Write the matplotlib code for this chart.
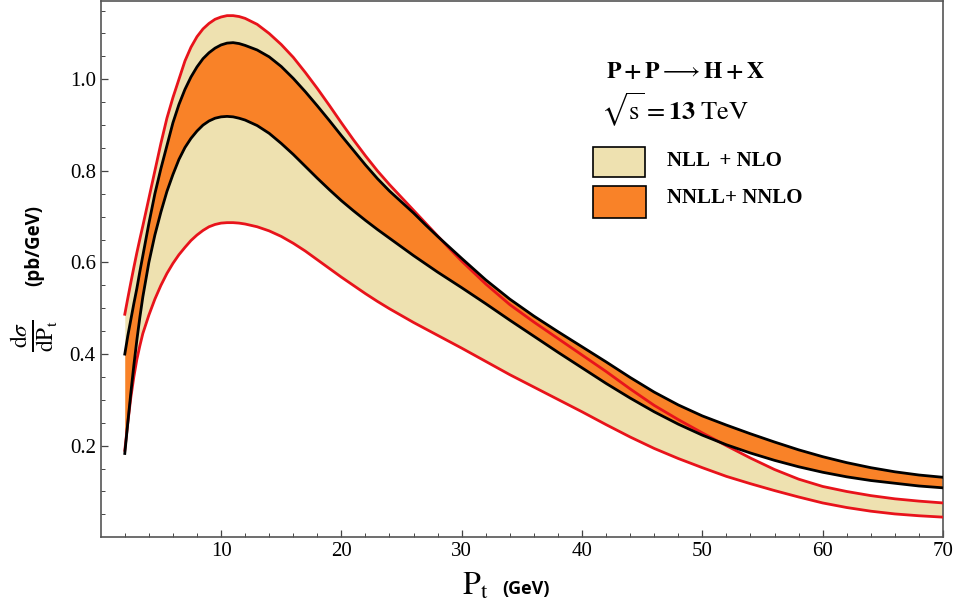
import numpy as np
import matplotlib
matplotlib.use("Agg")
import matplotlib.pyplot as plt
from matplotlib.patches import Rectangle

plt.rcParams['font.family'] = ['Liberation Serif', 'DejaVu Serif']
plt.rcParams['mathtext.fontset'] = 'stix'

# transverse momentum grid (GeV)
pt = [2, 2.25, 2.5, 2.75, 3, 3.25, 3.5,
      4, 4.5, 5, 5.5, 6, 6.5, 7, 7.5, 8, 8.5, 9, 9.5, 10, 10.5, 11, 11.5, 12,
      13, 14, 15, 16, 17, 18, 19, 20, 21, 22, 23, 24, 25, 26, 27, 28, 29, 30,
      32, 34, 36, 38, 40, 42, 44, 46, 48, 50, 52, 54, 56, 58, 60, 62, 64, 66, 68, 70]

# NLL + NLO band (red edges)
nlo_hi = [0.487, 0.522, 0.556, 0.589, 0.621, 0.651, 0.68,
          0.74, 0.80, 0.86, 0.915, 0.96, 1.0, 1.04, 1.07, 1.093, 1.11, 1.122, 1.131,
          1.136, 1.139, 1.139, 1.137, 1.133,
          1.12, 1.1, 1.076, 1.048, 1.015, 0.98, 0.943, 0.905, 0.868, 0.833, 0.8,
          0.77, 0.742, 0.714, 0.686, 0.658, 0.63, 0.603,
          0.553, 0.508, 0.47, 0.434, 0.398, 0.362, 0.324, 0.288, 0.257, 0.228, 0.2,
          0.173, 0.148, 0.127, 0.111, 0.1, 0.091, 0.084, 0.079, 0.075]
nlo_lo = [0.19, 0.25, 0.305, 0.35, 0.388, 0.418, 0.445,
          0.485, 0.52, 0.55, 0.576, 0.598, 0.617, 0.633, 0.648, 0.66, 0.67, 0.678, 0.683,
          0.686, 0.687, 0.687, 0.686, 0.684,
          0.678, 0.669, 0.657, 0.642, 0.625, 0.606, 0.587, 0.568, 0.55, 0.532, 0.515,
          0.499, 0.484, 0.469, 0.455, 0.441, 0.427, 0.413,
          0.384, 0.355, 0.328, 0.301, 0.274, 0.246, 0.219, 0.194, 0.172, 0.152, 0.133,
          0.117, 0.102, 0.088, 0.075, 0.065, 0.057, 0.051, 0.047, 0.044]

# NNLL + NNLO band (black edges)
nnlo_hi = [0.40, 0.44, 0.475, 0.51, 0.543, 0.58, 0.615,
           0.685, 0.75, 0.805, 0.855, 0.905, 0.945, 0.978, 1.005, 1.027, 1.045, 1.058, 1.068,
           1.075, 1.079, 1.08, 1.078, 1.074,
           1.064, 1.049, 1.028, 1.002, 0.973, 0.942, 0.91, 0.877, 0.845, 0.813, 0.783,
           0.756, 0.732, 0.708, 0.682, 0.657, 0.633, 0.609,
           0.562, 0.52, 0.483, 0.449, 0.416, 0.383, 0.349, 0.317, 0.289, 0.265, 0.245,
           0.226, 0.208, 0.191, 0.176, 0.163, 0.152, 0.143, 0.136, 0.131]
nnlo_lo = [0.183, 0.25, 0.315, 0.375, 0.43, 0.48, 0.525,
           0.60, 0.66, 0.71, 0.755, 0.792, 0.825, 0.851, 0.871, 0.887, 0.90, 0.909, 0.915,
           0.918, 0.919, 0.918, 0.915, 0.911,
           0.899, 0.882, 0.86, 0.836, 0.81, 0.784, 0.759, 0.735, 0.713, 0.692, 0.672,
           0.653, 0.634, 0.615, 0.597, 0.579, 0.562, 0.545,
           0.51, 0.474, 0.439, 0.404, 0.37, 0.336, 0.304, 0.274, 0.247, 0.223, 0.202,
           0.184, 0.168, 0.154, 0.142, 0.132, 0.124, 0.118, 0.112, 0.108]

beige = '#eee1b0'
orange = '#f98228'
red = '#e8131b'

fig = plt.figure(figsize=(9.63, 6.08), dpi=100)
ax = fig.add_axes([0.1046, 0.1163, 0.8746, 0.8821])

ax.fill_between(pt, nlo_lo, nlo_hi, color=beige, lw=0, zorder=1)
ax.fill_between(pt, nnlo_lo, nnlo_hi, color=orange, lw=0, zorder=2)
ax.plot(pt, nlo_hi, color=red, lw=2, zorder=3)
ax.plot(pt, nlo_lo, color=red, lw=2, zorder=3)
ax.plot(pt, nnlo_hi, color='black', lw=2, zorder=4)
ax.plot(pt, nnlo_lo, color='black', lw=2, zorder=4)

ax.set_xlim(0, 70)
ax.set_ylim(0, 1.171)
ax.set_xticks(np.arange(10, 71, 10))
ax.set_xticklabels([str(v) for v in range(10, 71, 10)])
ax.set_xticks(np.arange(2, 70, 2), minor=True)
ax.set_yticks([0.2, 0.4, 0.6, 0.8, 1.0])
ax.set_yticks(np.arange(0.05, 1.17, 0.05), minor=True)
ax.set_yticklabels(['0.2', '0.4', '0.6', '0.8', '1.0'])
plt.setp(ax.get_xticklabels() + ax.get_yticklabels(), family='Liberation Serif')
ax.tick_params(which='both', direction='in', top=False, right=False,
               labelsize=15, colors='#444444', labelcolor='black')
ax.tick_params(which='major', length=5, width=0.9)
ax.tick_params(which='minor', length=3, width=0.7)
for s in ax.spines.values():
    s.set_color('#555555')
    s.set_linewidth(1.2)

# axis labels
fig.text(0.036, 0.448, r'$\frac{\mathrm{d}\sigma}{\mathrm{dP_t}}$', fontsize=24,
         rotation=90, ha='center', va='center')
fig.text(0.036, 0.597, '(pb/GeV)', fontsize=13.5, fontweight='bold',
         family=['Open Sans', 'DejaVu Sans'], rotation=90, ha='center', va='center')
fig.text(0.494, 0.035, r'$\mathrm{P_t}$', fontsize=23, ha='center', va='center')
fig.text(0.546, 0.031, '(GeV)', fontsize=13, fontweight='bold',
         family=['Open Sans', 'DejaVu Sans'], ha='center', va='center')

# process annotation
ax.text(0.60, 0.866, r'$\mathbf{P + P}\longrightarrow\mathbf{H + X}$', transform=ax.transAxes,
        fontsize=17, ha='left', va='center')
ax.text(0.594, 0.796, r'$\sqrt{\mathrm{s}} = \mathbf{13}\ \mathrm{TeV}$', transform=ax.transAxes,
        fontsize=19, ha='left', va='center')

# legend boxes
ax.add_patch(Rectangle((0.585, 0.672), 0.061, 0.056, transform=ax.transAxes,
                       facecolor=beige, edgecolor='black', lw=1.2, zorder=5))
ax.add_patch(Rectangle((0.584, 0.595), 0.063, 0.06, transform=ax.transAxes,
                       facecolor=orange, edgecolor='black', lw=1.2, zorder=5))
ax.text(0.672, 0.702, 'NLL  + NLO', transform=ax.transAxes, fontsize=15,
        fontweight='bold', ha='left', va='center')
ax.text(0.672, 0.632, 'NNLL+ NNLO', transform=ax.transAxes, fontsize=15,
        fontweight='bold', ha='left', va='center')

plt.savefig("out.png", dpi=100)
plt.close()
